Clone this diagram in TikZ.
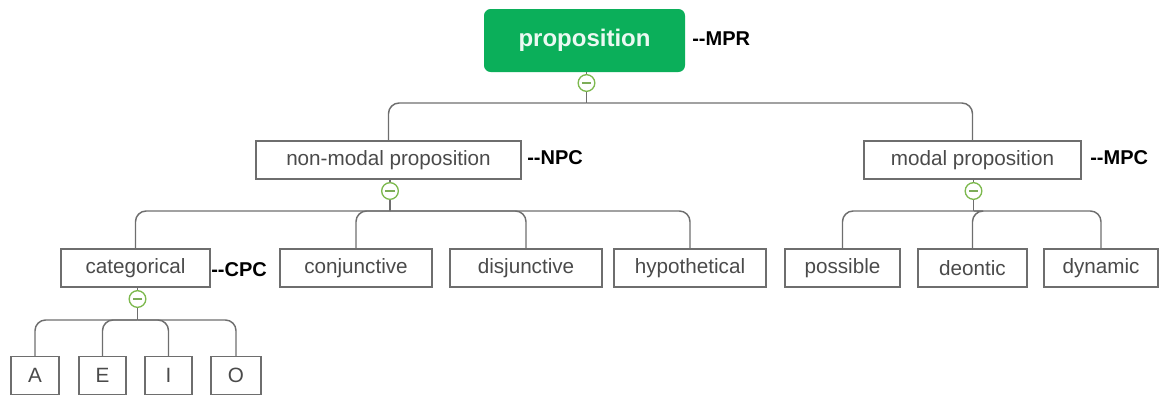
\documentclass[tikz,border=0pt]{standalone}
\usepackage{fontspec}
\setmainfont{Liberation Sans}
\usetikzlibrary{positioning,calc}
\definecolor{mindgreen}{HTML}{0BAF5A}
\definecolor{foldgreen}{HTML}{7DB94E}
\definecolor{boxgray}{HTML}{6E6E6E}
\definecolor{textgray}{HTML}{4A4A4A}
\tikzset{
    topic/.style={draw=boxgray,line width=1.1pt,minimum height=28.5pt,inner sep=0pt,text=textgray,font=\fontsize{15.5}{18}\selectfont},
    root/.style={fill=mindgreen,rounded corners=5pt,minimum width=150.75pt,minimum height=47.25pt,inner sep=0pt,text=white!92!mindgreen,font=\fontsize{18}{21}\selectfont\bfseries},
    fold/.style={circle,draw=foldgreen,line width=1pt,fill=white,minimum size=12.5pt,inner sep=0pt,
        path picture={\fill[foldgreen!80!gray] ($(path picture bounding box.center)+(-3.6pt,-0.8pt)$) rectangle ($(path picture bounding box.center)+(3.6pt,0.8pt)$);}},
    branch/.style={draw=boxgray,line width=1.1pt,rounded corners=8pt},
    tag/.style={anchor=west,inner sep=0pt,text=black,font=\fontsize{15}{18}\selectfont\bfseries}
}
\begin{document}
\begin{tikzpicture}[x=0.75pt,y=-0.75pt]
    \useasboundingbox (0,0) rectangle (1164,396);
    \node[root](mpr) at (584.5,40.5){proposition};
    \node[topic,minimum width=198.75pt](npc) at (388.5,160){non-modal proposition};
    \node[topic,minimum width=162.75pt](mpc) at (972.5,160){modal proposition};
    \node[topic,minimum width=111.75pt](cpc) at (135.5,268){categorical};
    \node[topic,minimum width=114pt](conj) at (356,268){conjunctive};
    \node[topic,minimum width=114pt](disj) at (526,268){disjunctive};
    \node[topic,minimum width=114pt](hypo) at (690,268){hypothetical};
    \node[topic,minimum width=86.25pt](poss) at (842.5,268){possible};
    \node[topic,minimum width=81.75pt](deon) at (972.5,268){deontic};
    \node[topic,minimum width=85.5pt](dyna) at (1101,268){dynamic};
    \node[topic,minimum width=36pt](a) at (35,375.5){A};
    \node[topic,minimum width=35.25pt](e) at (102.5,375.5){E};
    \node[topic,minimum width=35.25pt](i) at (168.5,375.5){I};
    \node[topic,minimum width=37.5pt](o) at (236,375.5){O};
    % fold marks and junctions
    \node[fold](mprfold) at (586.5,83){};
    \node[fold](npcfold) at (390,191){};
    \node[fold](mpcfold) at (973.5,191){};
    \node[fold](cpcfold) at (137.5,299){};
    \coordinate(mprj) at (586.5,103);
    \coordinate(npcj) at (390,211);
    \coordinate(mpcj) at (973.5,211);
    \coordinate(cpcj) at (137.5,320);
    \draw[branch](mpr.south-|mprfold)--(mprfold);
    \draw[branch](mprfold)--(mprj);
    \draw[branch](mprj)-|(npc.north);
    \draw[branch](mprj)-|(mpc.north);
    \draw[branch](npc.south-|npcfold)--(npcfold);
    \draw[branch](npcfold)--(npcj);
    \draw[branch](npcj)-|(cpc.north);
    \draw[branch](npcj)-|(conj.north);
    \draw[branch](npcj)-|(disj.north);
    \draw[branch](npcj)-|(hypo.north);
    \draw[branch](mpc.south-|mpcfold)--(mpcfold);
    \draw[branch](mpcfold)--(mpcj);
    \draw[branch](mpcj)-|(poss.north);
    \draw[branch](mpcj)--(mpcj-|deon.north)--(deon.north);
    \draw[branch](mpcj)-|(dyna.north);
    \draw[branch](cpc.south-|cpcfold)--(cpcfold);
    \draw[branch](cpcfold)--(cpcj);
    \draw[branch](cpcj)-|(a.north);
    \draw[branch](cpcj)-|(e.north);
    \draw[branch](cpcj)-|(i.north);
    \draw[branch](cpcj)-|(o.north);
    % tags
    \node[tag](mprtag) at (692,39){-{}-MPR};
    \node[tag](npctag) at (527,158){-{}-NPC};
    \node[tag](mpctag) at (1090,158){-{}-MPC};
    \node[tag](cpctag) at (211,270){-{}-CPC};
\end{tikzpicture}
\end{document}
